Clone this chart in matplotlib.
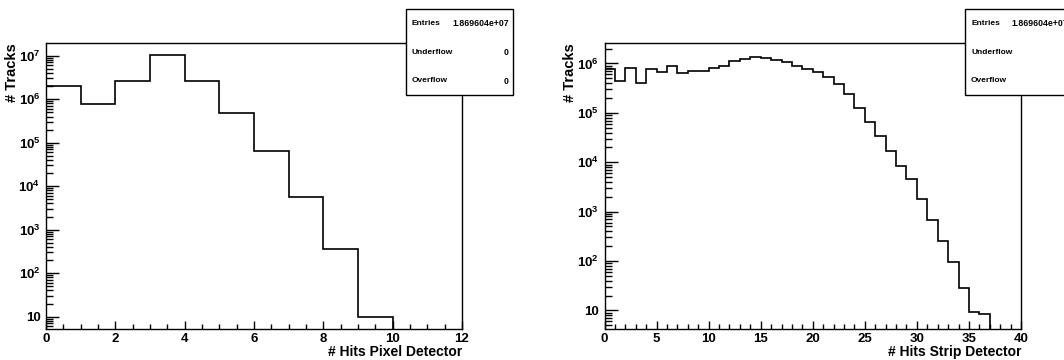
import numpy as np
import matplotlib
matplotlib.use("Agg")
import matplotlib.pyplot as plt
from matplotlib.ticker import MultipleLocator, LogLocator, FuncFormatter, NullFormatter
from matplotlib.patches import Rectangle

plt.rcParams['font.family'] = ['Liberation Sans', 'DejaVu Sans']
plt.rcParams['font.weight'] = 'bold'
plt.rcParams['mathtext.fontset'] = 'custom'
plt.rcParams['mathtext.rm'] = 'Liberation Sans:bold'
plt.rcParams['mathtext.bf'] = 'Liberation Sans:bold'
plt.rcParams['mathtext.it'] = 'Liberation Sans:bold'

# pixel detector hits, bins 0..11
pixel_counts = [1.96e6, 7.8e5, 2.6e6, 1.02e7, 2.6e6, 4.9e5, 6.5e4, 5.7e3, 350, 10, 0, 0]
# strip detector hits, bins 0..39
strip_counts = [7.7e5, 4.4e5, 8.2e5, 4.0e5, 7.7e5, 6.8e5, 8.7e5, 6.5e5, 7.0e5, 7.1e5,
                8.1e5, 9.1e5, 1.10e6, 1.22e6, 1.36e6, 1.30e6, 1.17e6, 1.05e6, 8.8e5, 7.6e5,
                6.7e5, 5.4e5, 3.8e5, 2.4e5, 1.27e5, 6.6e4, 3.35e4, 1.69e4, 8.4e3, 4.5e3,
                1.82e3, 680, 260, 95, 29, 9.2, 8.4, 0, 0, 0]
stats_labels = ["Entries", "Underflow", "Overflow"]
stats_values = ["1.869604e+07", "0", "0"]


def log_label(v, pos):
    e = int(round(np.log10(v)))
    if e == 1:
        return "10"
    return r"$10^{%d}$" % e


def draw_hist(ax, counts, xmax, ylim, xmajor, xminor, xlabel):
    counts = np.array(counts, dtype=float)
    edges = np.arange(len(counts) + 1)
    vals = np.where(counts > 0, counts, ylim[0] * 0.5)
    ax.stairs(vals, edges, baseline=None, color='black', lw=1.2)
    ax.set_yscale('log')
    ax.set_xlim(0, xmax)
    ax.set_ylim(*ylim)
    ax.xaxis.set_major_locator(MultipleLocator(xmajor))
    ax.xaxis.set_minor_locator(MultipleLocator(xminor))
    ax.yaxis.set_major_locator(LogLocator(base=10))
    ax.yaxis.set_minor_locator(LogLocator(base=10, subs=np.arange(2, 10)))
    ax.yaxis.set_major_formatter(FuncFormatter(log_label))
    ax.yaxis.set_minor_formatter(NullFormatter())
    ax.tick_params(axis='both', which='both', direction='in', labelsize=9.5,
                   top=False, right=False, width=1)
    ax.tick_params(axis='y', which='major', length=9.5, pad=4)
    ax.tick_params(axis='y', which='minor', length=5)
    ax.tick_params(axis='x', which='major', length=6, pad=3)
    ax.tick_params(axis='x', which='minor', length=3.5)
    for s in ax.spines.values():
        s.set_linewidth(1.0)
    ax.set_xlabel(xlabel, fontsize=10, fontweight='bold', loc='right', labelpad=0)
    ax.set_ylabel("# Tracks", fontsize=10.5, fontweight='bold', loc='top')
    ax.yaxis.set_label_coords(-0.065, 1.0)


fig = plt.figure(figsize=(10.64, 3.6), dpi=100)
ax1 = fig.add_axes([46 / 1064, 31 / 360, 416 / 1064, 286 / 360])
ax2 = fig.add_axes([604.5 / 1064, 31 / 360, 416.5 / 1064, 286 / 360])

draw_hist(ax1, pixel_counts, 12, (5.2, 1.96e7), 2, 0.5, "# Hits Pixel Detector")
draw_hist(ax2, strip_counts, 40, (4.2, 2.6e6), 5, 1, "# Hits Strip Detector")

# stats boxes
for x0 in [406, 965]:
    w, y_top, y_bot = 107, 8.7, 95
    fig.patches.append(Rectangle((x0 / 1064, (360 - y_bot) / 360), w / 1064,
                                 (y_bot - y_top) / 360, transform=fig.transFigure,
                                 facecolor='white', edgecolor='black', lw=1.0, zorder=5))
    for lab, val, yy in zip(stats_labels, stats_values, [23.7, 52.7, 81]):
        fig.text((x0 + 6) / 1064, 1 - yy / 360, lab, fontsize=6, fontweight='bold',
                 va='center', ha='left', zorder=6)
        fig.text((x0 + w - 4) / 1064, 1 - yy / 360, val, fontsize=6.3, fontweight='bold',
                 va='center', ha='right', zorder=6)

fig.savefig("out.png", dpi=100)
